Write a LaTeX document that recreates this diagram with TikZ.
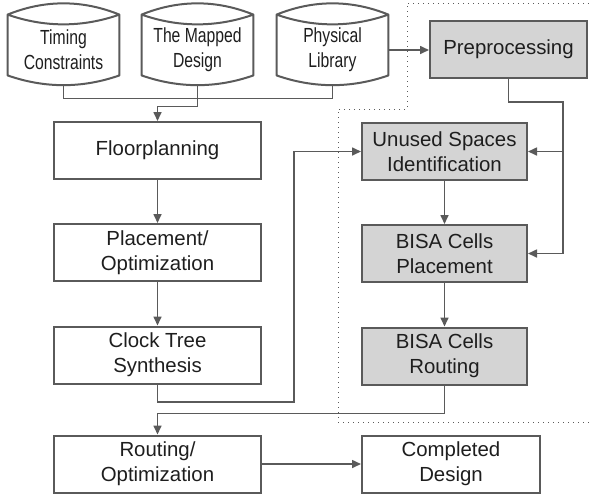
\documentclass[tikz,border=0pt]{standalone}
\usepackage{fontspec}
\setmainfont{Liberation Sans}
\newfontfamily\narrowfont[FakeStretch=0.77]{Liberation Sans}
\usetikzlibrary{arrows.meta}
\definecolor{linegray}{HTML}{5A5A5A}
\definecolor{boxgray}{HTML}{D4D4D4}
\definecolor{textgray}{HTML}{1E1E1E}

\begin{document}
\begin{tikzpicture}
  [x=0.5pt,y=-0.5pt,font=\fontsize{10.2}{12.5}\selectfont,text=textgray]
      \tikzstyle{box_style} = [draw=linegray, line width=1pt, align=center, minimum height=28.5pt, inner sep=2pt]
      \tikzstyle{store_style} = [align=center, minimum width=55.5pt, minimum height=35pt, inner sep=0pt,
                                 font=\narrowfont\fontsize{10.2}{12.5}\selectfont]
      \tikzstyle{store_line} = [draw=linegray, line width=1pt, line join=round]
      \tikzstyle{edge_style} = [draw=linegray, line width=0.8pt]
      \tikzstyle{arrow_style} = [edge_style, -{Triangle[length=4.5pt,width=4pt]}]
  \useasboundingbox (0,0) rectangle (589,494);

  % dotted area round the added steps
  \draw[linegray, line width=0.5pt, dotted] (589,3) -- (407,3) -- (407,109) -- (338,109) -- (338,422) -- (589,422);

  % input data
  \node[store_style] (tc) at (63.5,50) {Timing\\Constraints};
  \node[store_style] (md) at (197.5,50) {The Mapped\\Design};
  \node[store_style] (pl) at (332.5,50) {Physical\\Library};
  \foreach \s in {tc,md,pl}
    \draw[store_line] (\s.north west) .. controls +(37,-15) and +(-37,-15) .. (\s.north east)
       .. controls +(-37,13) and +(37,13) .. (\s.north west)
       -- ([yshift=5pt]\s.south west) .. controls +(37,13) and +(-37,13) .. ([yshift=5pt]\s.south east)
       -- (\s.north east);

  % standard flow
  \node[box_style, minimum width=103.5pt] (fp) at (157.5,150.5) {Floorplanning};
  \node[box_style, minimum width=103.5pt] (po) at (157.5,252.5) {Placement/\\Optimization};
  \node[box_style, minimum width=103.5pt] (cts) at (157.5,355) {Clock Tree\\Synthesis};
  \node[box_style, minimum width=103.5pt] (ro) at (157.5,464) {Routing/\\Optimization};
  \node[box_style, minimum width=89pt] (cd) at (451,464) {Completed\\Design};

  % added steps
  \node[box_style, fill=boxgray, minimum width=78.5pt] (pre) at (508.5,49.5) {Preprocessing};
  \node[box_style, fill=boxgray, minimum width=82.5pt] (us) at (444.5,151.5) {Unused Spaces\\Identification};
  \node[box_style, fill=boxgray, minimum width=82.5pt] (bp) at (444.5,253.5) {BISA Cells\\Placement};
  \node[box_style, fill=boxgray, minimum width=82.5pt] (br) at (444.5,356) {BISA Cells\\Routing};

  \coordinate (rj) at (563,102);
  \coordinate (lj) at (294,402);

  \draw[edge_style] (tc.south) -- ++(0,13) -| (pl.south);
  \draw[arrow_style] (md.south) -- ++(0,21) -| (fp.north);
  \draw[arrow_style] (pl.east) -- (pl.east -| pre.west);
  \draw[arrow_style] (fp) -- (po);
  \draw[arrow_style] (po) -- (cts);
  \draw[arrow_style] (cts.south) |- (lj) |- (us.west);
  \draw[arrow_style] (pre.south) |- (rj) |- (bp.east);
  \draw[arrow_style] (rj |- us.east) -- (us.east);
  \draw[arrow_style] (us) -- (bp);
  \draw[arrow_style] (bp) -- (br);
  \draw[arrow_style] (br.south) -- ++(0,28) -| (ro.north);
  \draw[arrow_style] (ro) -- (cd);
\end{tikzpicture}
\end{document}
